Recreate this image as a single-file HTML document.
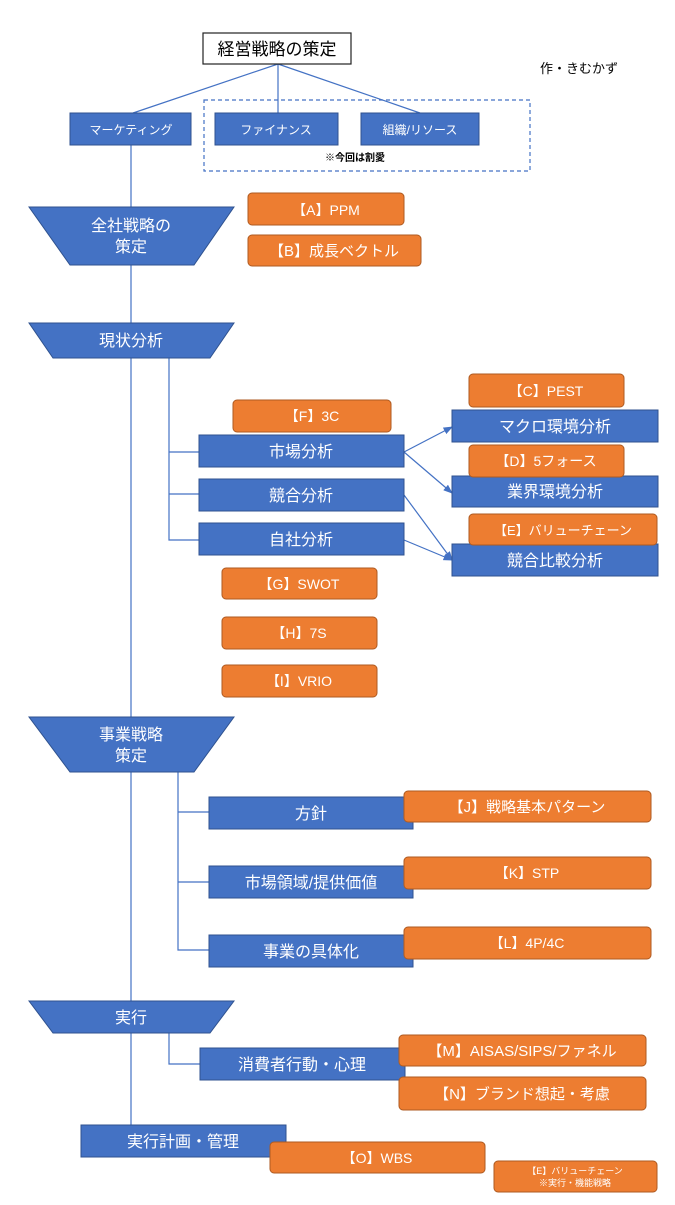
<!DOCTYPE html>
<html><head><meta charset="utf-8"><style>
body{margin:0;background:#fff}
svg text{font-family:"Liberation Sans","Noto Sans CJK JP",sans-serif}
</style></head><body>
<svg width="675" height="1200" viewBox="0 0 675 1200" xmlns="http://www.w3.org/2000/svg">
<defs><marker id="ar" markerWidth="8" markerHeight="8" refX="7" refY="4" orient="auto"><path d="M0,1 L8,4 L0,7 z" fill="#4472c4"/></marker></defs>
<g stroke="#4472c4" stroke-width="1.2" fill="none">
<line x1="278" y1="64" x2="133" y2="113"/><line x1="278" y1="64" x2="278" y2="113"/><line x1="278" y1="64" x2="420" y2="113"/>
<line x1="131" y1="145" x2="131" y2="1125"/>
<polyline points="169,358 169,540 199,540"/><line x1="169" y1="452" x2="199" y2="452"/><line x1="169" y1="494" x2="199" y2="494"/>
<line x1="404" y1="452" x2="452" y2="427" marker-end="url(#ar)"/>
<line x1="404" y1="452" x2="452" y2="493" marker-end="url(#ar)"/>
<line x1="404" y1="495" x2="452" y2="560" marker-end="url(#ar)"/>
<line x1="404" y1="540" x2="452" y2="560" marker-end="url(#ar)"/>
<polyline points="178,772 178,950 209,950"/><line x1="178" y1="812" x2="209" y2="812"/><line x1="178" y1="882" x2="209" y2="882"/>
<polyline points="169,1033 169,1064 200,1064"/>
</g>
<rect x="204" y="100" width="326" height="71" fill="none" stroke="#4472c4" stroke-width="1.2" stroke-dasharray="4,3"/>
<rect x="203" y="33" width="148" height="31" fill="#fff" stroke="#222" stroke-width="1.2"/>
<text x="277" y="55" font-size="17" text-anchor="middle" fill="#000">経営戦略の策定</text>
<text x="540" y="73" font-size="13" fill="#000">作・きむかず</text>
<text x="355" y="161" font-size="10" font-weight="bold" text-anchor="middle" fill="#000">※今回は割愛</text>
<g fill="#4472c4" stroke="#2f528f" stroke-width="1">
<rect x="70" y="113" width="121" height="32"/><rect x="215" y="113" width="123" height="32"/><rect x="361" y="113" width="118" height="32"/>
<polygon points="29,207 234,207 194,265 70,265"/>
<polygon points="29,323 234,323 210,358 53,358"/>
<rect x="452" y="410" width="206" height="32"/><rect x="199" y="435" width="205" height="32"/>
<rect x="452" y="476" width="206" height="31"/><rect x="199" y="479" width="205" height="32"/>
<rect x="199" y="523" width="205" height="32"/><rect x="452" y="544" width="206" height="32"/>
<polygon points="29,717 234,717 194,772 70,772"/>
<rect x="209" y="797" width="204" height="32"/><rect x="209" y="866" width="204" height="32"/><rect x="209" y="935" width="204" height="32"/>
<polygon points="29,1001 234,1001 210,1033 53,1033"/>
<rect x="200" y="1048" width="205" height="32"/><rect x="81" y="1125" width="205" height="32"/>
</g>
<g fill="#ed7d31" stroke="#ae5a21" stroke-width="1">
<rect x="248" y="193" width="156" height="32" rx="4"/><rect x="248" y="235" width="173" height="31" rx="4"/>
<rect x="469" y="374" width="155" height="33" rx="4"/><rect x="233" y="400" width="158" height="32" rx="4"/>
<rect x="469" y="445" width="155" height="32" rx="4"/><rect x="469" y="514" width="188" height="31" rx="4"/>
<rect x="222" y="568" width="155" height="31" rx="4"/><rect x="222" y="617" width="155" height="32" rx="4"/><rect x="222" y="665" width="155" height="32" rx="4"/>
<rect x="404" y="791" width="247" height="31" rx="4"/><rect x="404" y="857" width="247" height="32" rx="4"/><rect x="404" y="927" width="247" height="32" rx="4"/>
<rect x="399" y="1035" width="247" height="31" rx="4"/><rect x="399" y="1077" width="247" height="33" rx="4"/>
<rect x="270" y="1142" width="215" height="31" rx="4"/><rect x="494" y="1161" width="163" height="31" rx="4"/>
</g>
<g fill="#fff" text-anchor="middle">
<text x="131" y="134" font-size="12">マーケティング</text><text x="276" y="134" font-size="12">ファイナンス</text><text x="420" y="134" font-size="12">組織/リソース</text>
<text x="131" y="231" font-size="16">全社戦略の</text><text x="131" y="252" font-size="16">策定</text>
<text x="131" y="346" font-size="16">現状分析</text>
<text x="555" y="432" font-size="16">マクロ環境分析</text><text x="301" y="457" font-size="16">市場分析</text>
<text x="555" y="497" font-size="16">業界環境分析</text><text x="301" y="501" font-size="16">競合分析</text>
<text x="301" y="545" font-size="16">自社分析</text><text x="555" y="566" font-size="16">競合比較分析</text>
<text x="131" y="740" font-size="16">事業戦略</text><text x="131" y="761" font-size="16">策定</text>
<text x="311" y="819" font-size="16">方針</text><text x="311" y="888" font-size="16">市場領域/提供価値</text><text x="311" y="957" font-size="16">事業の具体化</text>
<text x="131" y="1023" font-size="16">実行</text>
<text x="302" y="1070" font-size="16">消費者行動・心理</text><text x="183" y="1147" font-size="16">実行計画・管理</text>
<text x="326" y="215" font-size="14">【A】PPM</text><text x="334" y="256" font-size="15">【B】成長ベクトル</text>
<text x="546" y="396" font-size="14">【C】PEST</text><text x="312" y="421" font-size="14">【F】3C</text>
<text x="546" y="466" font-size="14">【D】5フォース</text><text x="563" y="535" font-size="13">【E】バリューチェーン</text>
<text x="299" y="589" font-size="14">【G】SWOT</text><text x="299" y="638" font-size="14">【H】7S</text><text x="299" y="686" font-size="14">【I】VRIO</text>
<text x="527" y="812" font-size="15">【J】戦略基本パターン</text><text x="527" y="878" font-size="14">【K】STP</text><text x="527" y="948" font-size="14">【L】4P/4C</text>
<text x="522" y="1056" font-size="15">【M】AISAS/SIPS/ファネル</text><text x="522" y="1099" font-size="15">【N】ブランド想起・考慮</text>
<text x="377" y="1163" font-size="14">【O】WBS</text>
<text x="575" y="1174" font-size="9">【E】バリューチェーン</text><text x="575" y="1186" font-size="9">※実行・機能戦略</text>
</g>
</svg>
</body></html>
